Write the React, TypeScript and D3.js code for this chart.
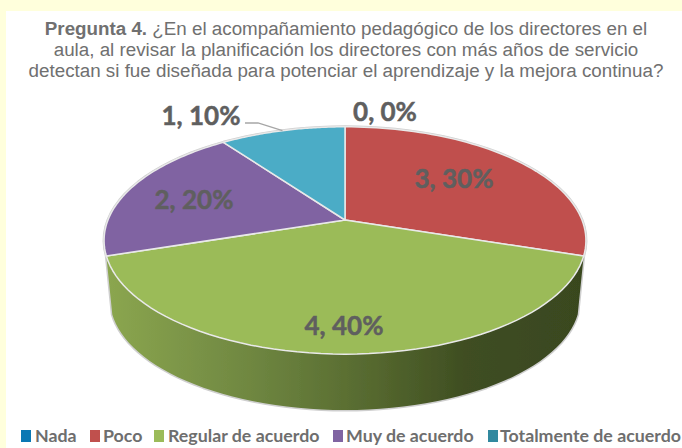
import React from "react";
import * as d3 from "d3";

const categories = ["Nada", "Poco", "Regular de acuerdo", "Muy de acuerdo", "Totalmente de acuerdo"];
const values = [0, 3, 4, 2, 1];
const colors = ["#0a78b4", "#c0504d", "#9bbb59", "#8064a2", "#4bacc6"];
const legendColors = ["#0a78b4", "#c0504d", "#9bbb59", "#8064a2", "#31899f"];
const titleLines = [
  "¿En el acompañamiento pedagógico de los directores en el",
  "aula, al revisar la planificación los directores con más años de servicio",
  "detectan si fue diseñada para potenciar el aprendizaje y la mejora continua?",
];

const width = 682;
const height = 448;
const cx = 345;
const cy = 220;
const rx = 237;
const ry = 110;
const tilt = 0.18;
const labelFont = "Lato, 'Open Sans', sans-serif";

// circle seen in perspective: the far rim is squeezed, the near rim is stretched
const project = (a: number, r = 1, sx = rx, sy = ry, oy = cy): [number, number] => {
  const u = Math.sin(a) * r;
  const v = -Math.cos(a) * r;
  const w = 1 - tilt * v;
  return [cx + (sx * u) / w, oy + (sy * v) / w];
};
const bottom = (a: number): [number, number] => project(a, 1, rx * 0.975, ry * 0.973, 279.5);

const line = d3.line();
const arcPoints = (a0: number, a1: number, fn = (a: number) => project(a)) =>
  d3.range(0, 61).map((i) => fn(a0 + ((a1 - a0) * i) / 60));

const slices = d3.pie<number>().sort(null)(values);

// label positions, by category
const labelPos: [number, number][] = [
  [385, 121],
  [454, 188],
  [344, 335],
  [194, 209],
  [201, 125],
];

const legendX = [21, 90, 154, 333, 488];
const legendTextX = [35, 103, 168, 346, 500];

export default function App() {
  const wall = slices[2];
  const outer = [
    ...arcPoints(wall.startAngle, wall.endAngle, bottom),
    ...arcPoints(wall.endAngle, Math.PI * 2 + wall.startAngle),
  ];
  const leaderEnd = project((slices[4].startAngle + slices[4].endAngle) / 2);

  return (
    <svg
      width={width}
      height={height}
      style={{ position: "absolute", left: 0, top: 0 }}
    >
      <defs>
        <linearGradient id="wall" gradientUnits="userSpaceOnUse" x1={107} x2={584} y1={0} y2={0}>
          <stop offset="0" stopColor="#8ba64f" />
          <stop offset="0.3" stopColor="#6f8741" />
          <stop offset="0.55" stopColor="#56692f" />
          <stop offset="0.75" stopColor="#3f4e22" />
          <stop offset="1" stopColor="#39471f" />
        </linearGradient>
        <filter id="soft" x="-5%" y="-5%" width="110%" height="110%">
          <feGaussianBlur stdDeviation="0.45" />
        </filter>
      </defs>
      <rect width={width} height={height} fill="#ffffdc" />
      <rect x={6} y={11} width={width - 6} height={height - 11} fill="#ffffff" />

      <text
        x={346}
        textAnchor="middle"
        fontFamily="'Liberation Sans', Arial, sans-serif"
        fontSize={18.8}
        fill="#707070"
      >
        <tspan x={346} y={35}>
          <tspan fontWeight="bold">Pregunta 4.</tspan> {titleLines[0]}
        </tspan>
        <tspan x={346} y={56}>{titleLines[1]}</tspan>
        <tspan x={346} y={76.5}>{titleLines[2]}</tspan>
      </text>

      <g filter="url(#soft)">
        {/* grey silhouette behind the pie */}
        <path
          d={line(outer) + "Z"}
          fill="#d0d0d0"
          stroke="#cfcfcf"
          strokeWidth={3}
          strokeLinejoin="round"
        />
        <path
          d={
            line([
              ...arcPoints(wall.startAngle, wall.endAngle),
              ...arcPoints(wall.endAngle, wall.startAngle, bottom),
            ]) + "Z"
          }
          fill="url(#wall)"
        />
        {slices.map((s, i) =>
          s.value > 0 ? (
            <path
              key={categories[i]}
              d={line([[cx, cy], ...arcPoints(s.startAngle, s.endAngle)]) + "Z"}
              fill={colors[i]}
              stroke="#e9e9e9"
              strokeWidth={1.5}
              strokeLinejoin="round"
            />
          ) : null
        )}
      </g>

      <path
        d={line([[245, 123], [258, 123], leaderEnd]) ?? ""}
        fill="none"
        stroke="#a6a6a6"
        strokeWidth={1.3}
      />

      {slices.map((s, i) => (
        <text
          key={"label" + i}
          x={labelPos[i][0]}
          y={labelPos[i][1]}
          textAnchor="middle"
          fontFamily={labelFont}
          fontWeight="bold"
          fontSize={26}
          fill="#5f5f5f"
          stroke="#5f5f5f"
          strokeWidth={0.5}
        >
          {`${s.value}, ${d3.format(".0%")(s.value / d3.sum(values))}`}
        </text>
      ))}

      {categories.map((c, i) => (
        <g key={c}>
          <rect x={legendX[i]} y={430} width={10} height={12} fill={legendColors[i]} />
          <text
            x={legendTextX[i]}
            y={442}
            fontFamily={labelFont}
            fontWeight="bold"
            fontSize={17.8}
            fill="#6e6e6e"
          >
            {c}
          </text>
        </g>
      ))}
    </svg>
  );
}
